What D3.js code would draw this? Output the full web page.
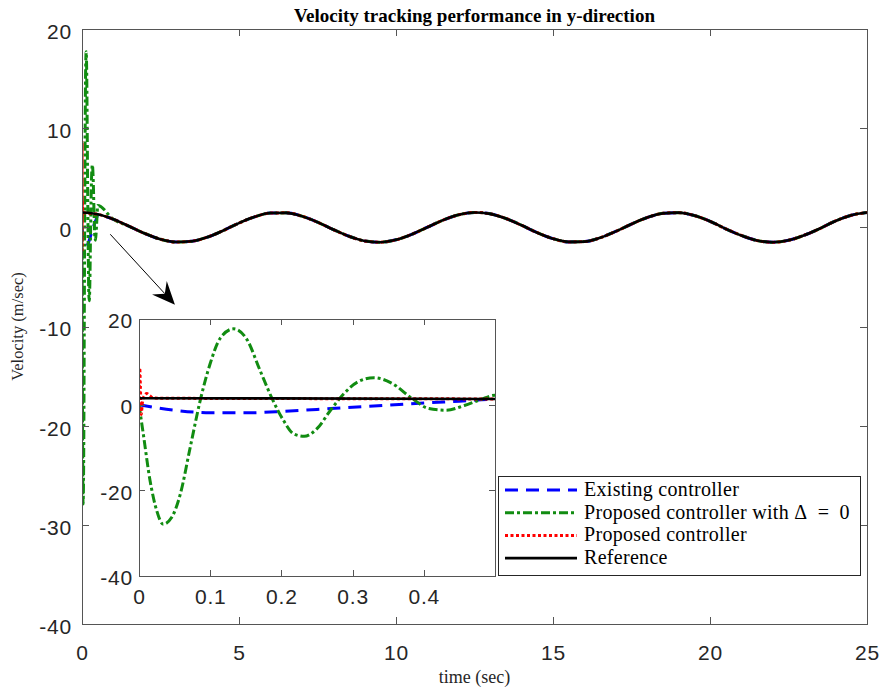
<!DOCTYPE html>
<html>
<head>
<meta charset="utf-8">
<script src="https://cdn.jsdelivr.net/npm/d3@7"></script>
<style>
    body { margin: 0; background: #fff; }
    .tick text { fill: #262626; font-family: "Liberation Sans", Arial, sans-serif; font-size: 21px; letter-spacing: 0.8px; }
</style>
</head>
<body>
<svg id="chart" width="885" height="691"></svg>
<script>
// Reference velocity, sampled every 0.5 s
const refTime = d3.range(0, 25.5, 0.5);
const refVel = [1.50, 1.32, 0.81, 0.11, -0.62, -1.20, -1.48, -1.40, -0.98, -0.32,
    0.43, 1.06, 1.44, 1.46, 1.13, 0.52, -0.22, -0.90, -1.37, -1.50,
    -1.26, -0.71, 0.01, 0.73, 1.27, 1.50, 1.36, 0.89, 0.21, -0.54,
    -1.14, -1.47, -1.44, -1.05, -0.41, 0.33, 0.99, 1.41, 1.48, 1.19,
    0.61, -0.15, -0.82, -1.33, -1.50, -1.31, -0.80, -0.12, 0.64, 1.22, 1.49];

// Transients (first half second)
const blueTime = [0, 0.05, 0.1, 0.15, 0.2, 0.25, 0.3, 0.35, 0.4, 0.45, 0.5];
const blueVel = [0, -1.3, -1.9, -1.9, -1.6, -1.1, -0.6, -0.1, 0.4, 0.8, 1.25];

const greenTime = [0, 0.006, 0.0155, 0.025, 0.034, 0.046, 0.058, 0.072, 0.086, 0.1,
    0.114, 0.133, 0.152, 0.17, 0.187, 0.203, 0.217, 0.232, 0.25, 0.269,
    0.288, 0.307, 0.33, 0.354, 0.384, 0.407, 0.431, 0.457, 0.48, 0.5];
const greenVel = [0, -6.8, -17.7, -24.8, -27.9, -26.3, -20.9, -9.9, 1.0, 9.6,
    15.5, 17.7, 15.1, 8.0, 1.4, -3.7, -6.8, -7.4, -5.6, -1.3,
    2.6, 5.3, 6.3, 5.1, 1.4, -0.9, -1.3, -0.2, 1.2, 2.2];

const redTime = [0, 0.001, 0.002, 0.003, 0.005, 0.008, 0.011, 0.015, 0.02, 0.03];
const redVel = [0, 8.6, 4.0, -2.3, 0.8, 2.2, 2.6, 2.1, 1.6, 1.5];

const seriesNames = ['Existing controller', 'Proposed controller with \u0394\u2002=\u20020', 'Proposed controller', 'Reference'];
const mainXTicks = [0, 5, 10, 15, 20, 25];
const mainYTicks = [-40, -30, -20, -10, 0, 10, 20];
const insetXTicks = [0, 0.1, 0.2, 0.3, 0.4];
const insetYTicks = [-40, -20, 0, 20];

// arrow annotation, in main-axis data units
const arrowFrom = [0.9, -0.7];
const arrowTo = [2.96, -7.8];

const styles = [
    {color: '#0000ff', dash: '13,8', width: 3},
    {color: '#118c11', dash: '9,3,3,3', width: 3},
    {color: '#ff0000', dash: '3,2.5', width: 3},
    {color: '#000000', dash: null, width: 2.6}
];

const svg = d3.select('#chart');

const x = d3.scaleLinear().domain([0, 25]).range([82, 867]);
const y = d3.scaleLinear().domain([-40, 20]).range([624, 29]);
const xi = d3.scaleLinear().domain([0, 0.5]).range([139, 495]);
const yi = d3.scaleLinear().domain([-40, 20]).range([576, 319]);

// controller data = transient followed by the reference
const toPoints = (ts, vs) => ts.map((t, i) => [t, vs[i]]);
const withRef = (ts, vs) => {
    const last = ts[ts.length - 1];
    return toPoints(ts, vs).concat(toPoints(refTime, refVel).filter(d => d[0] > last));
};
const series = [
    withRef(blueTime, blueVel),
    withRef(greenTime, greenVel),
    withRef(redTime, redVel),
    toPoints(refTime, refVel)
];

const defs = svg.append('defs');
const addClip = (id, xs, ys) => {
    defs.append('clipPath').attr('id', id)
        .append('rect')
            .attr('x', xs.range()[0])
            .attr('y', ys.range()[1])
            .attr('width', xs.range()[1] - xs.range()[0])
            .attr('height', ys.range()[0] - ys.range()[1]);
};
addClip('clipMain', x, y);
addClip('clipInset', xi, yi);

const drawAxes = (xs, ys, xTicks, yTicks, tick, xPad, yPad) => {
    const g = svg.append('g');
    const [x0, x1] = xs.range();
    const [y0, y1] = ys.range();

    g.append('g')
        .attr('transform', 'translate(0,' + y0 + ')')
        .call(d3.axisBottom(xs).tickValues(xTicks).tickSizeInner(-tick).tickSizeOuter(0)
            .tickPadding(xPad).tickFormat(d => String(d)));
    g.append('g')
        .attr('transform', 'translate(0,' + y1 + ')')
        .call(d3.axisTop(xs).tickValues(xTicks).tickSizeInner(-tick).tickSizeOuter(0).tickFormat(''));
    g.append('g')
        .attr('class', 'yleft')
        .attr('transform', 'translate(' + x0 + ',0)')
        .call(d3.axisLeft(ys).tickValues(yTicks).tickSizeInner(-tick).tickSizeOuter(0)
            .tickPadding(yPad).tickFormat(d => String(d)));
    g.append('g')
        .attr('transform', 'translate(' + x1 + ',0)')
        .call(d3.axisRight(ys).tickValues(yTicks).tickSizeInner(-tick).tickSizeOuter(0).tickFormat(''));

    g.selectAll('.domain, .tick line')
        .attr('stroke', '#555')
        .attr('shape-rendering', 'crispEdges');
    g.selectAll('.tick text').attr('fill', '#262626');
    return g;
};

const drawSeries = (xs, ys, clip) => {
    const line = d3.line()
        .x(d => xs(d[0]))
        .y(d => ys(d[1]))
        .curve(d3.curveMonotoneX);
    const g = svg.append('g').attr('clip-path', 'url(#' + clip + ')');
    series.forEach((s, i) => {
        const pts = s.filter(d => d[0] <= xs.domain()[1] + 0.5);
        g.append('path')
            .attr('d', line(pts))
            .attr('fill', 'none')
            .attr('stroke', styles[i].color)
            .attr('stroke-width', styles[i].width)
            .attr('stroke-dasharray', styles[i].dash)
            .attr('stroke-linejoin', 'round');
    });
};

// main plot
drawSeries(x, y, 'clipMain');
const mainAxes = drawAxes(x, y, mainXTicks, mainYTicks, 7, 21, 10);
mainAxes.selectAll('.yleft .tick text').attr('dy', '0.45em');

// title and labels
svg.append('text')
    .attr('x', (x.range()[0] + x.range()[1]) / 2)
    .attr('y', 22)
    .attr('text-anchor', 'middle')
    .style('font-family', '"Liberation Serif", "Times New Roman", serif')
    .style('font-weight', 'bold')
    .style('font-size', '19px')
    .attr('fill', '#000')
    .text('Velocity tracking performance in y-direction');

svg.append('text')
    .attr('x', (x.range()[0] + x.range()[1]) / 2)
    .attr('y', 683)
    .attr('text-anchor', 'middle')
    .style('font-family', '"Liberation Serif", "Times New Roman", serif')
    .style('font-size', '18px')
    .attr('fill', '#262626')
    .text('time (sec)');

svg.append('text')
    .attr('transform', 'translate(23,' + (y.range()[0] + y.range()[1]) / 2 + ') rotate(-90)')
    .attr('text-anchor', 'middle')
    .style('font-family', '"Liberation Serif", "Times New Roman", serif')
    .style('font-size', '16.5px')
    .attr('fill', '#262626')
    .text('Velocity (m/sec)');

// arrow
const ax0 = x(arrowFrom[0]), ay0 = y(arrowFrom[1]);
const ax1 = x(arrowTo[0]), ay1 = y(arrowTo[1]);
const len = Math.hypot(ax1 - ax0, ay1 - ay0);
const ux = (ax1 - ax0) / len, uy = (ay1 - ay0) / len;
const headLen = 23, headW = 10, notch = 15;
svg.append('line')
    .attr('x1', ax0).attr('y1', ay0)
    .attr('x2', ax1 - ux * notch).attr('y2', ay1 - uy * notch)
    .attr('stroke', '#000')
    .attr('stroke-width', 1);
const bx = ax1 - ux * headLen, by = ay1 - uy * headLen;
svg.append('path')
    .attr('d', d3.line()([
        [ax1, ay1],
        [bx - uy * headW, by + ux * headW],
        [ax1 - ux * notch, ay1 - uy * notch],
        [bx + uy * headW, by - ux * headW]
    ]) + 'Z')
    .attr('fill', '#000');

// inset
svg.append('rect')
    .attr('x', xi.range()[0])
    .attr('y', yi.range()[1])
    .attr('width', xi.range()[1] - xi.range()[0])
    .attr('height', yi.range()[0] - yi.range()[1])
    .attr('fill', '#fff');
drawSeries(xi, yi, 'clipInset');
const insetAxes = drawAxes(xi, yi, insetXTicks, insetYTicks, 6, 13, 6);
insetAxes.selectAll('.yleft .tick text').attr('dy', '0.42em');

// legend
const legend = svg.append('g').attr('transform', 'translate(498,476)');
legend.append('rect')
    .attr('width', 362)
    .attr('height', 99)
    .attr('fill', '#fff')
    .attr('stroke', '#262626')
    .attr('stroke-width', 1)
    .attr('shape-rendering', 'crispEdges');
seriesNames.forEach((name, i) => {
    const ry = 14 + i * 22.7;
    legend.append('line')
        .attr('x1', 7).attr('x2', 79)
        .attr('y1', ry).attr('y2', ry)
        .attr('stroke', styles[i].color)
        .attr('stroke-width', styles[i].width)
        .attr('stroke-dasharray', styles[i].dash);
    legend.append('text')
        .attr('x', 86)
        .attr('y', ry + 6)
        .style('font-family', '"Liberation Serif", "Times New Roman", serif')
        .style('font-size', '20px')
        .style('letter-spacing', '0.3px')
        .attr('fill', '#000')
        .text(name);
});
</script>
</body>
</html>
